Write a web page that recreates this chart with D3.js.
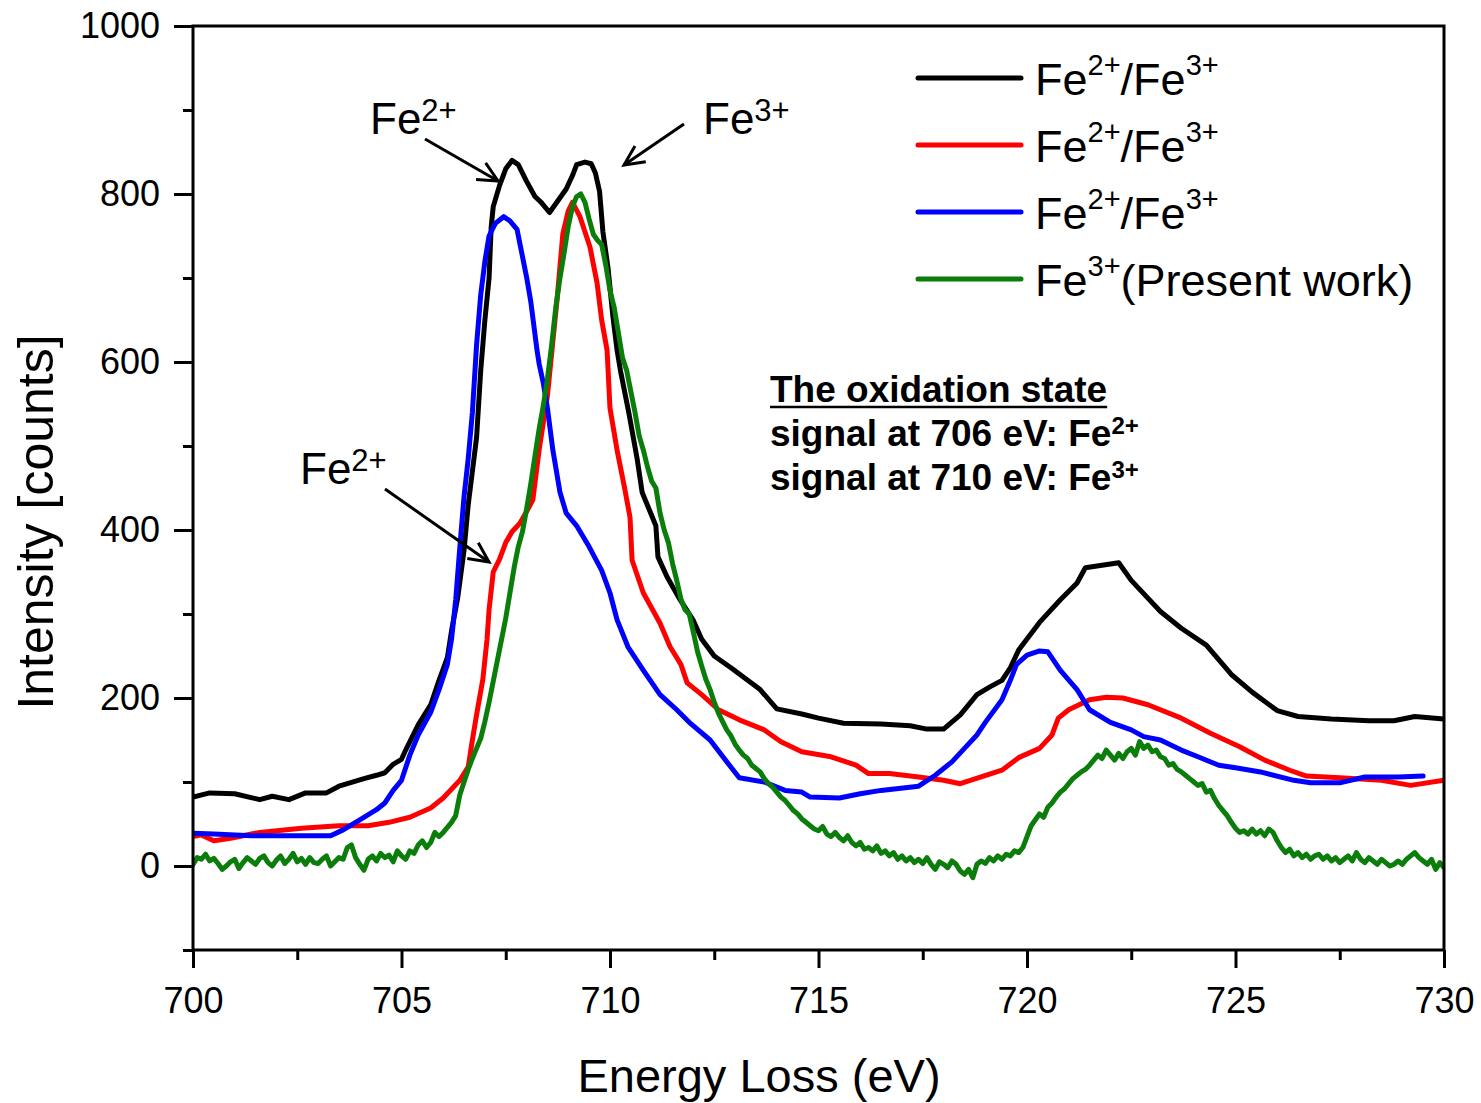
<!DOCTYPE html>
<html>
<head>
<meta charset="utf-8">
<script src="https://cdn.jsdelivr.net/npm/d3@7"></script>
<style>
  html, body { margin: 0; padding: 0; background: #fff; }
  svg { display: block; }
  text { font-family: "Liberation Sans", Arial, Helvetica, sans-serif; fill: #000; }
</style>
</head>
<body>
<svg id="chart" width="1481" height="1103"></svg>
<script>
// ---------------- DATA ----------------
const xTicks = [700, 705, 710, 715, 720, 725, 730];
const xMinorTicks = [702.5, 707.5, 712.5, 717.5, 722.5, 727.5];
const yTicks = [0, 200, 400, 600, 800, 1000];
const yMinorTicks = [-100, 100, 300, 500, 700, 900];

const seriesNames = ["Fe2+/Fe3+ (black)", "Fe2+/Fe3+ (red)", "Fe2+/Fe3+ (blue)", "Fe3+ (Present work)"];
const seriesColors = ["#000000", "#ff0000", "#0000ff", "#0a7d0a"];

// [energy (eV), intensity (counts)]
const blackData = [
  [700.0, 82], [700.4, 87], [701.0, 86], [701.6, 79], [701.9, 83], [702.3, 79], [702.7, 87], [703.2, 87],
  [703.5, 95], [704.1, 104], [704.4, 108], [704.6, 111], [704.8, 121], [705.0, 127], [705.1, 138], [705.4, 168],
  [705.7, 192], [705.9, 221], [706.1, 248], [706.2, 280], [706.35, 320], [706.5, 376], [706.6, 430], [706.8, 510],
  [706.9, 590], [707.0, 650], [707.1, 700], [707.15, 760], [707.2, 785], [707.35, 810], [707.5, 830], [707.65, 840],
  [707.8, 835], [708.0, 815], [708.2, 797], [708.35, 790], [708.55, 778], [708.75, 792], [708.95, 806], [709.1, 822],
  [709.2, 835], [709.4, 838], [709.55, 836], [709.65, 825], [709.75, 803], [709.83, 755], [709.95, 713], [710.07, 654],
  [710.17, 614], [710.25, 590], [710.45, 540], [710.65, 485], [710.77, 445], [711.1, 405], [711.15, 368], [711.37, 344],
  [711.68, 317], [711.99, 293], [712.2, 270], [712.5, 250], [712.9, 236], [713.6, 210], [714.0, 187], [714.6, 181],
  [715.0, 176], [715.6, 170], [716.5, 169], [717.2, 167], [717.6, 163], [718.0, 163], [718.4, 180], [718.8, 204],
  [719.1, 213], [719.4, 221], [719.6, 236], [719.8, 257], [720.3, 290], [720.8, 317], [721.2, 337], [721.4, 355],
  [721.8, 358], [722.2, 361], [722.5, 340], [723.2, 303], [723.7, 283], [724.3, 263], [724.9, 228], [725.4, 207],
  [726.0, 185], [726.5, 178], [727.3, 175], [728.2, 173], [728.8, 173], [729.3, 178], [730.0, 175]
];

const redData = [
  [700.0, 35], [700.2, 37], [700.5, 30], [700.9, 33], [701.6, 40], [702.6, 45], [703.5, 48], [704.2, 48],
  [704.7, 52], [705.2, 58], [705.7, 69], [706.0, 81], [706.4, 102], [706.6, 118], [706.7, 150], [706.8, 180],
  [706.95, 222], [707.05, 269], [707.1, 305], [707.2, 350], [707.35, 365], [707.5, 385], [707.65, 398], [707.84, 408],
  [708.0, 422], [708.15, 436], [708.3, 495], [708.5, 560], [708.73, 674], [708.87, 753], [709.0, 780], [709.1, 790],
  [709.28, 773], [709.52, 737], [709.69, 694], [709.8, 650], [709.93, 614], [710.0, 545], [710.17, 495], [710.35, 450],
  [710.48, 415], [710.53, 364], [710.8, 325], [711.2, 289], [711.44, 261], [711.7, 240], [711.85, 218], [712.2, 204],
  [712.6, 186], [713.1, 174], [713.7, 162], [714.1, 148], [714.6, 136], [715.3, 130], [715.9, 120], [716.2, 110],
  [716.7, 110], [717.4, 106], [718.0, 102], [718.4, 98], [718.9, 106], [719.4, 114], [719.8, 129], [720.3, 140],
  [720.6, 156], [720.75, 176], [721.0, 186], [721.5, 198], [721.9, 201], [722.3, 200], [722.9, 192], [723.7, 176],
  [724.4, 158], [725.1, 142], [725.7, 126], [726.3, 114], [726.7, 107], [727.5, 105], [728.5, 102], [729.2, 96],
  [730.0, 102]
];

const blueData = [
  [700.0, 39], [700.5, 38], [701.4, 36], [702.3, 36], [703.3, 36], [703.6, 43], [704.0, 55], [704.4, 67],
  [704.6, 75], [704.8, 90], [705.0, 102], [705.1, 117], [705.2, 132], [705.4, 156], [705.7, 183], [705.9, 210],
  [706.1, 240], [706.2, 270], [706.3, 317], [706.4, 380], [706.5, 440], [706.6, 485], [706.7, 540], [706.8, 620],
  [706.9, 680], [707.0, 720], [707.1, 750], [707.25, 765], [707.45, 773], [707.6, 768], [707.77, 758], [708.0, 701],
  [708.1, 672], [708.25, 614], [708.3, 598], [708.4, 575], [708.5, 545], [708.63, 495], [708.8, 445], [708.95, 420],
  [709.2, 405], [709.5, 380], [709.8, 352], [710.0, 325], [710.17, 293], [710.43, 261], [710.8, 233], [711.2, 204],
  [711.6, 186], [711.9, 171], [712.4, 150], [712.8, 124], [713.1, 105], [713.7, 100], [714.2, 90], [714.6, 88],
  [714.8, 82], [715.5, 81], [716.0, 86], [716.5, 90], [717.4, 95], [717.8, 108], [718.2, 124], [718.5, 140],
  [718.8, 156], [719.0, 171], [719.4, 198], [719.6, 221], [719.75, 240], [720.0, 251], [720.3, 256], [720.5, 255],
  [720.8, 233], [721.2, 210], [721.5, 186], [722.0, 171], [722.5, 162], [722.8, 154], [723.2, 150], [723.7, 138],
  [724.1, 130], [724.6, 120], [725.0, 117], [725.6, 112], [726.4, 102], [726.8, 99], [727.5, 99], [728.1, 106],
  [728.9, 106], [729.5, 107]
];

// green: sampled every 0.1 eV from 700.0 to 730.0
const greenStart = 700.0;
const greenStep = 0.1;
const greenValues = [
  2, 10, 8, 14, 6, 9, 3, -4, 0, 5,
  8, -3, 4, 10, 6, 2, 9, 12, 4, 0,
  7, 12, 3, 8, 15, 5, 9, 2, 10, 4,
  3, 8, 12, 0, 5, 10, 8, 22, 25, 10,
  2, -5, 8, 12, 6, 15, 10, 13, 5, 18,
  12, 8, 18, 15, 25, 30, 22, 28, 40, 35,
  40, 46, 52, 60, 85, 100, 115, 128, 140, 152,
  172, 195, 220, 245, 270, 295, 325, 355, 380, 398,
  425, 455, 488, 520, 548, 580, 620, 665, 700, 730,
  762, 785, 797, 800, 790, 770, 752, 745, 740, 715,
  685, 665, 635, 605, 590, 565, 540, 512, 495, 475,
  458, 450, 420, 400, 385, 360, 340, 318, 305, 300,
  278, 255, 238, 222, 210, 195, 182, 172, 162, 155,
  145, 138, 132, 128, 120, 116, 112, 104, 98, 94,
  88, 82, 78, 72, 66, 62, 56, 52, 48, 44,
  42, 47, 38, 35, 40, 34, 30, 36, 28, 24,
  28, 20, 22, 18, 24, 15, 18, 12, 16, 8,
  12, 6, 10, 4, 8, 3, 10, 2, -4, 5,
  2, -2, 6, 2, -6, -10, -4, -14, 2, 6,
  3, 10, 6, 12, 8, 14, 12, 18, 16, 22,
  35, 48, 55, 62, 58, 70, 75, 82, 88, 92,
  98, 104, 108, 112, 115, 120, 126, 132, 128, 138,
  132, 126, 134, 128, 136, 140, 132, 148, 140, 144,
  136, 138, 130, 128, 120, 122, 115, 112, 108, 104,
  100, 96, 98, 88, 90, 80, 72, 66, 60, 52,
  45, 40, 42, 38, 44, 38, 42, 36, 44, 40,
  30, 22, 16, 20, 12, 16, 10, 14, 8, 12,
  14, 8, 12, 6, 10, 4, 8, 12, 6, 16,
  8, 4, 10, 6, 2, 8, 4, 0, 2, 6,
  2, 8, 12, 16, 10, 6, 2, 8, -4, 4,
  -2
];
const greenData = greenValues.map((v, i) => [greenStart + i * greenStep, v]);

// ---------------- LAYOUT ----------------
const svg = d3.select("#chart");
const plotL = 193, plotR = 1444, plotT = 26, plotB = 950;
const x = d3.scaleLinear().domain([700, 730]).range([plotL, plotR]);
const y = d3.scaleLinear().domain([-100, 1000]).range([plotB, plotT]);
const FONT = '"Liberation Sans", Arial, Helvetica, sans-serif';

svg.append("defs").append("clipPath").attr("id", "plotclip")
  .append("rect").attr("x", plotL).attr("y", plotT).attr("width", plotR - plotL).attr("height", plotB - plotT);

// ---------------- SERIES ----------------
const line = d3.line().x(d => x(d[0])).y(d => y(d[1]));
const allData = [blackData, redData, blueData, greenData];
const gLines = svg.append("g").attr("clip-path", "url(#plotclip)");
allData.forEach((data, i) => {
  gLines.append("path")
    .datum(data)
    .attr("d", line)
    .attr("fill", "none")
    .attr("stroke", seriesColors[i])
    .attr("stroke-width", 5)
    .attr("stroke-linejoin", "round")
    .attr("stroke-linecap", "round");
});

// ---------------- AXES ----------------
function styleAxis(g) {
  g.select(".domain").remove();
  g.selectAll(".tick line").attr("stroke", "#000").attr("stroke-width", 3);
  g.selectAll(".tick text").attr("fill", "#000").style("font-family", FONT).style("font-size", "36px");
}
svg.append("g").attr("transform", `translate(0,${plotB})`)
  .call(d3.axisBottom(x).tickValues(xMinorTicks).tickSize(10).tickFormat(""))
  .call(styleAxis);
svg.append("g").attr("transform", `translate(0,${plotB})`)
  .call(d3.axisBottom(x).tickValues(xTicks).tickSize(18).tickPadding(19).tickFormat(d3.format("d")))
  .call(styleAxis);
svg.append("g").attr("transform", `translate(${plotL},0)`)
  .call(d3.axisLeft(y).tickValues(yMinorTicks).tickSize(10).tickFormat(""))
  .call(styleAxis);
svg.append("g").attr("transform", `translate(${plotL},0)`)
  .call(d3.axisLeft(y).tickValues(yTicks).tickSize(19).tickPadding(14).tickFormat(d3.format("d")))
  .call(styleAxis);

// frame
svg.append("rect")
  .attr("x", plotL).attr("y", plotT).attr("width", plotR - plotL).attr("height", plotB - plotT)
  .attr("fill", "none").attr("stroke", "#000").attr("stroke-width", 3);

// axis titles
svg.append("text")
  .attr("x", 759).attr("y", 1092)
  .attr("text-anchor", "middle").style("font-size", "47px")
  .text("Energy Loss (eV)");
svg.append("text")
  .attr("transform", "translate(53,522) rotate(-90)")
  .attr("text-anchor", "middle").style("font-size", "50px")
  .text("Intensity [counts]");

// ---------------- LEGEND ----------------
const legendRows = [
  { base: "Fe", sup1: "2+", mid: "/Fe", sup2: "3+" },
  { base: "Fe", sup1: "2+", mid: "/Fe", sup2: "3+" },
  { base: "Fe", sup1: "2+", mid: "/Fe", sup2: "3+" },
  { base: "Fe", sup1: "3+", mid: "(Present work)", sup2: "" }
];
const legendY = [78, 145, 212, 279];
legendRows.forEach((r, i) => {
  const ly = legendY[i];
  svg.append("line")
    .attr("x1", 918).attr("x2", 1021).attr("y1", ly).attr("y2", ly)
    .attr("stroke", seriesColors[i]).attr("stroke-width", 5).attr("stroke-linecap", "round");
  const t = svg.append("text").attr("x", 1035).attr("y", ly + 17).style("font-size", "45px");
  t.append("tspan").text(r.base);
  t.append("tspan").attr("dy", -20).style("font-size", "29px").text(r.sup1);
  t.append("tspan").attr("dy", 20).text(r.mid);
  if (r.sup2) t.append("tspan").attr("dy", -20).style("font-size", "29px").text(r.sup2);
});

// ---------------- ANNOTATIONS ----------------
function ionLabel(xp, yp, base, sup, size, supSize, rise, bold) {
  const t = svg.append("text").attr("x", xp).attr("y", yp).style("font-size", size + "px");
  if (bold) t.style("font-weight", "bold");
  t.append("tspan").text(base);
  t.append("tspan").attr("dy", -rise).style("font-size", supSize + "px").text(sup);
  return t;
}
ionLabel(370, 134, "Fe", "2+", 44, 31, 13, false);
ionLabel(703, 134, "Fe", "3+", 44, 31, 13, false);
ionLabel(300, 484, "Fe", "2+", 44, 31, 13, false);

function arrow(x1, y1, x2, y2) {
  const ang = Math.atan2(y2 - y1, x2 - x1);
  const len = 22, spread = 0.45;
  svg.append("line").attr("x1", x1).attr("y1", y1).attr("x2", x2).attr("y2", y2)
    .attr("stroke", "#000").attr("stroke-width", 3);
  const a1 = [x2 - len * Math.cos(ang - spread), y2 - len * Math.sin(ang - spread)];
  const a2 = [x2 - len * Math.cos(ang + spread), y2 - len * Math.sin(ang + spread)];
  svg.append("path")
    .attr("d", `M${a1[0]},${a1[1]} L${x2},${y2} L${a2[0]},${a2[1]}`)
    .attr("fill", "none").attr("stroke", "#000").attr("stroke-width", 3)
    .attr("stroke-linejoin", "miter");
}
arrow(425, 139, 498, 181);
arrow(684, 124, 624, 165);
arrow(385, 489, 489, 562);

// text block
const tb = svg.append("text").attr("x", 770).attr("y", 402)
  .style("font-size", "37px").style("font-weight", "bold").text("The oxidation state");
const tbw = tb.node().getComputedTextLength();
svg.append("line").attr("x1", 770).attr("x2", 770 + tbw).attr("y1", 407).attr("y2", 407)
  .attr("stroke", "#000").attr("stroke-width", 2.5);
ionLabel(770, 446, "signal at 706 eV: Fe", "2+", 37, 24, 12, true);
ionLabel(770, 490, "signal at 710 eV: Fe", "3+", 37, 24, 12, true);
</script>
</body>
</html>
